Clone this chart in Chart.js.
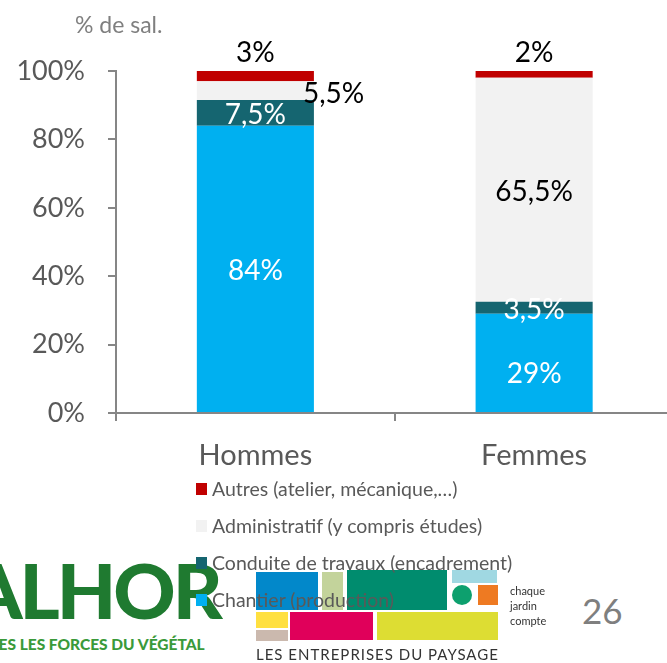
<!DOCTYPE html>
<html>
<head>
<meta charset="utf-8">
<script src="https://cdn.jsdelivr.net/npm/chart.js@4.4.1/dist/chart.umd.min.js"></script>
<style>
  html, body { margin: 0; padding: 0; background: #fff; overflow: hidden; width: 667px; height: 663px; }
  body { position: relative; font-family: Lato, "Open Sans", sans-serif; }
  #wrap { position: absolute; left: 0; top: 0; width: 690px; height: 473px; }
  #unit { position: absolute; left: 75px; top: 10px; font-size: 23px; color: #7f7f7f; }
  #legend { position: absolute; left: 196px; top: 470px; z-index: 3; }
  .item { height: 37px; display: flex; align-items: center; font-size: 19.5px; color: #595959; }
  .box { width: 11px; height: 12px; margin-right: 5px; }
  .r { position: absolute; z-index: 1; }
  #valhor { position: absolute; left: -78px; top: 543px; font: 900 77px Lato, sans-serif; color: #1f7a30; letter-spacing: -3px; z-index: 1; }
  #valsub { position: absolute; left: -44px; top: 635px; font: 900 15.5px Lato, sans-serif; color: #3a9a3a; z-index: 1; }
  #paysage { position: absolute; left: 256px; top: 645px; font-size: 15px; color: #333; letter-spacing: 1px; z-index: 1; }
  #chaque { position: absolute; left: 510px; top: 583px; font-size: 11px; line-height: 15px; color: #333; z-index: 1; }
  #page { position: absolute; left: 582px; top: 589px; font-size: 35px; color: #7f7f7f; }
</style>
</head>
<body>
<div id="wrap"><canvas id="myChart" width="690" height="473"></canvas></div>
<div id="unit">% de sal.</div>
<div id="legend"></div>

<div id="valhor">VALHOR</div>
<div id="valsub">TOUTES LES FORCES DU VÉGÉTAL</div>
<div class="r" style="left:256px;top:572px;width:62px;height:38px;background:#0288ca"></div>
<div class="r" style="left:322px;top:572px;width:21px;height:38px;background:#c3d39b"></div>
<div class="r" style="left:347px;top:570px;width:100px;height:40px;background:#008c6e"></div>
<div class="r" style="left:452px;top:570px;width:45px;height:13px;background:#a0d8e2"></div>
<div class="r" style="left:452px;top:585px;width:20px;height:20px;border-radius:50%;background:#0da06e"></div>
<div class="r" style="left:478px;top:585px;width:20px;height:20px;background:#ee7a22"></div>
<div class="r" style="left:256px;top:612px;width:32px;height:16px;background:#ffe040"></div>
<div class="r" style="left:256px;top:630px;width:32px;height:11px;background:#cbb9ae"></div>
<div class="r" style="left:290px;top:612px;width:83px;height:28px;background:#e0005a"></div>
<div class="r" style="left:377px;top:612px;width:121px;height:28px;background:#dddd33"></div>
<div id="paysage">LES ENTREPRISES DU PAYSAGE</div>
<div id="chaque">chaque<br>jardin<br>compte</div>
<div id="page">26</div>

<script>
const categories = ['Hommes', 'Femmes'];
const chantier = [84, 29];
const conduite = [7.5, 3.5];
const administratif = [5.5, 65.5];
const autres = [3, 2];
const yTicks = [0, 20, 40, 60, 80, 100];

const seriesNames = ['Chantier (production)', 'Conduite de travaux (encadrement)', 'Administratif (y compris études)', 'Autres (atelier, mécanique,…)'];
const seriesColors = ['#00b0f0', '#156570', '#f2f2f2', '#c00000'];
// where each label goes, per series and per category
const labelPlace = [
    ['center', 'low'],
    ['center', 'center'],
    ['right', 'center'],
    ['above', 'above']
];
const labelColors = ['#ffffff', '#ffffff', '#000000', '#000000'];

const gray = '#868686';
const fontFamily = 'Lato, "Open Sans", sans-serif';

function fmt(v) {
    return String(v).replace('.', ',') + '%';
}

const dataLabels = {
    id: 'dataLabels',
    afterDatasetsDraw(chart) {
        const c = chart.ctx;
        c.save();
        c.font = '28px ' + fontFamily;
        c.textBaseline = 'middle';
        chart.data.datasets.forEach((ds, i) => {
            chart.getDatasetMeta(i).data.forEach((bar, j) => {
                const place = labelPlace[i][j];
                const top = Math.min(bar.y, bar.base);
                const mid = (bar.y + bar.base) / 2;
                c.fillStyle = labelColors[i];
                if (place === 'above') {
                    c.textAlign = 'center';
                    c.fillText(fmt(ds.data[j]), bar.x, top - 18);
                } else if (place === 'right') {
                    c.textAlign = 'left';
                    c.fillText(fmt(ds.data[j]), bar.x + bar.width / 2 - 11, mid + 3);
                } else if (place === 'low') {
                    c.textAlign = 'center';
                    c.fillText(fmt(ds.data[j]), bar.x, mid + 11);
                } else {
                    c.textAlign = 'center';
                    c.fillText(fmt(ds.data[j]), bar.x, mid + 2);
                }
            });
        });
        c.restore();
    }
};

const allSeries = [chantier, conduite, administratif, autres];

const ctx = document.getElementById('myChart').getContext('2d');
const myChart = new Chart(ctx, {
    type: 'bar',
    data: {
        labels: categories,
        datasets: allSeries.map((d, i) => ({
            label: seriesNames[i],
            data: d,
            backgroundColor: seriesColors[i],
            borderWidth: 0,
            barPercentage: 0.84,
            categoryPercentage: 0.5
        }))
    },
    options: {
        responsive: false,
        animation: false,
        layout: { padding: { top: 71, right: 16.5, left: 0, bottom: 0 } },
        plugins: { legend: { display: false }, tooltip: { enabled: false } },
        scales: {
            x: {
                stacked: true,
                afterFit: s => { s.height = 60; },
                border: { color: gray, width: 2 },
                grid: { offset: true, drawOnChartArea: false, drawTicks: true, tickLength: 8, color: gray, lineWidth: 2 },
                ticks: { padding: 17, color: '#595959', font: { size: 29, family: fontFamily } }
            },
            y: {
                stacked: true,
                min: 0,
                max: 100,
                afterFit: s => { s.width = 116; },
                afterBuildTicks: s => { s.ticks = yTicks.map(v => ({ value: v })); },
                border: { color: gray, width: 2 },
                grid: { drawOnChartArea: false, drawTicks: true, tickLength: 8, color: gray, lineWidth: 2 },
                ticks: { padding: 23, color: '#595959', font: { size: 27, family: fontFamily }, callback: v => v + '%' }
            }
        }
    },
    plugins: [dataLabels]
});

const legend = document.getElementById('legend');
for (let i = allSeries.length - 1; i >= 0; i--) {
    const item = document.createElement('div');
    item.className = 'item';
    const box = document.createElement('div');
    box.className = 'box';
    box.style.backgroundColor = seriesColors[i];
    const text = document.createElement('span');
    text.textContent = seriesNames[i];
    item.appendChild(box);
    item.appendChild(text);
    legend.appendChild(item);
}
</script>
</body>
</html>
